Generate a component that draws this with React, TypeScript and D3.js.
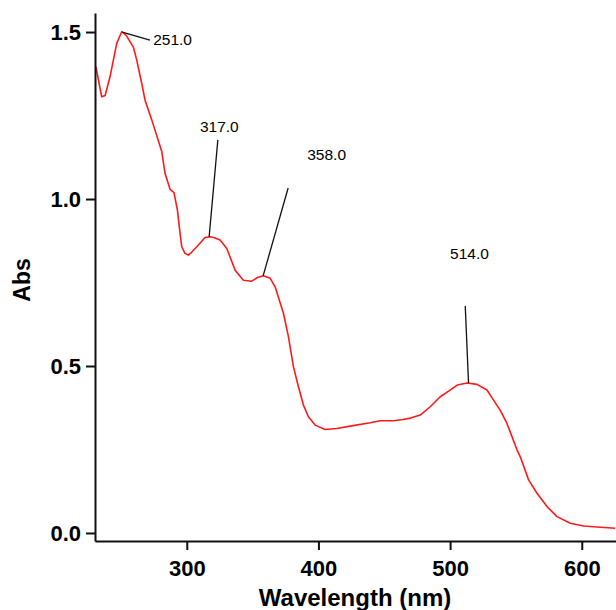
import React, { useEffect, useRef } from 'react';
import * as d3 from 'd3';

// spectrum
const wavelengths = [
  231, 235.4, 238, 241.7, 246.8, 250.6, 254, 259.4, 262, 265.8, 268.3, 273.4, 281, 283.5,
  287.3, 290.3, 292.9, 294.9, 296.2, 298.5, 301.2, 304, 307.6, 313.9, 317.7, 321, 325.3,
  330.4, 336.7, 343, 349.4, 353.2, 358.2, 363.3, 367.1, 373.4, 377.2, 381, 384.8, 388.6,
  392.4, 397.5, 405.1, 414, 424.1, 439.3, 446.9, 457, 464, 470, 477.3, 484.9, 492.5, 500,
  505.4, 513, 520.4, 528, 533, 538, 543.2, 550.8, 553.3, 559.6, 566, 573.6, 581.2, 591.3,
  601.4, 614, 625.5,
];
const absorbance = [
  1.396, 1.306, 1.31, 1.366, 1.466, 1.501, 1.49, 1.455, 1.416, 1.346, 1.296, 1.237, 1.142, 1.077,
  1.029, 1.019, 0.967, 0.897, 0.857, 0.838, 0.832, 0.842, 0.857, 0.885, 0.887, 0.884, 0.877,
  0.852, 0.787, 0.757, 0.754, 0.764, 0.77, 0.763, 0.737, 0.658, 0.588, 0.498, 0.438, 0.383,
  0.348, 0.323, 0.31, 0.313, 0.32, 0.33, 0.336, 0.336, 0.34, 0.344, 0.353, 0.378, 0.408, 0.428,
  0.443, 0.449, 0.445, 0.428, 0.398, 0.368, 0.328, 0.249, 0.228, 0.159, 0.119, 0.079, 0.049, 0.029,
  0.021, 0.017, 0.014,
];

// peak annotations
const peakWl = [251, 317, 358, 514];
const peakAbs = [1.5, 0.887, 0.77, 0.449];
const peakLabels = ['251.0', '317.0', '358.0', '514.0'];
// where each leader line ends and where its label sits (data units)
const leaderEndWl = [272, 323.6, 377, 511.5];
const leaderEndAbs = [1.476, 1.177, 1.033, 0.68];
const labelWl = [274.5, 310, 391.5, 500];
const labelAbs = [1.476, 1.216, 1.132, 0.838];

const xTicks = [300, 400, 500, 600];
const yTicks = [0, 0.5, 1.0, 1.5];

export default function App() {
  const svgRef = useRef<SVGSVGElement | null>(null);

  useEffect(() => {
    if (!svgRef.current) return;
    const width = 616;
    const height = 610;
    const svg = d3.select(svgRef.current);
    svg.selectAll('*').remove();
    svg.attr('width', width).attr('height', height);

    const x = d3.scaleLinear().domain([230.3, 626]).range([95, 616]);
    const y = d3.scaleLinear().domain([-0.024, 1.557]).range([541, 13]);
    const font = 'Arial, "Liberation Sans", sans-serif';

    // curve
    const line = d3.line<number>()
      .x((d, i) => x(wavelengths[i]))
      .y(d => y(d));
    svg.append('path')
      .datum(absorbance)
      .attr('fill', 'none')
      .attr('stroke', '#ff1a1a')
      .attr('stroke-width', 1.6)
      .attr('stroke-linejoin', 'round')
      .attr('d', line);

    // axes
    svg.append('g').attr('transform', 'translate(0,541)')
      .call(d3.axisBottom(x).tickValues(xTicks).tickSize(9).tickSizeOuter(0).tickPadding(10).tickFormat(d3.format('d')))
      .call(g => g.select('.domain').attr('stroke', '#111').attr('stroke-width', 2))
      .call(g => g.selectAll('line').attr('stroke', '#111').attr('stroke-width', 2))
      .call(g => g.selectAll('text').attr('fill', '#000').style('font-family', font)
        .style('font-size', '22px').style('font-weight', 'bold'));

    svg.append('g').attr('transform', 'translate(95,0)')
      .call(d3.axisLeft(y).tickValues(yTicks).tickSize(9).tickSizeOuter(0).tickPadding(5).tickFormat(d3.format('.1f')))
      .call(g => g.select('.domain').attr('stroke', '#111').attr('stroke-width', 2))
      .call(g => g.selectAll('line').attr('stroke', '#111').attr('stroke-width', 2))
      .call(g => g.selectAll('text').attr('fill', '#000').style('font-family', font)
        .style('font-size', '22px').style('font-weight', 'bold'));

    // axis titles
    svg.append('text')
      .attr('x', 355).attr('y', 606)
      .attr('text-anchor', 'middle')
      .style('font-family', font).style('font-size', '24px').style('font-weight', 'bold')
      .text('Wavelength (nm)');
    svg.append('text')
      .attr('transform', 'translate(30,280) rotate(-90)')
      .attr('text-anchor', 'middle')
      .style('font-family', font).style('font-size', '23px').style('font-weight', 'bold')
      .text('Abs');

    // peak annotations
    peakWl.forEach((wl, i) => {
      svg.append('line')
        .attr('x1', x(wl)).attr('y1', y(peakAbs[i]))
        .attr('x2', x(leaderEndWl[i])).attr('y2', y(leaderEndAbs[i]))
        .attr('stroke', '#111').attr('stroke-width', 1.3);
      svg.append('text')
        .attr('x', x(labelWl[i])).attr('y', y(labelAbs[i]))
        .attr('dy', '0.35em')
        .style('font-family', font).style('font-size', '15.5px')
        .attr('fill', '#000')
        .text(peakLabels[i]);
    });
  }, []);

  return (
    <svg ref={svgRef} style={{ position: 'absolute', left: 0, top: 0, display: 'block' }} />
  );
}
